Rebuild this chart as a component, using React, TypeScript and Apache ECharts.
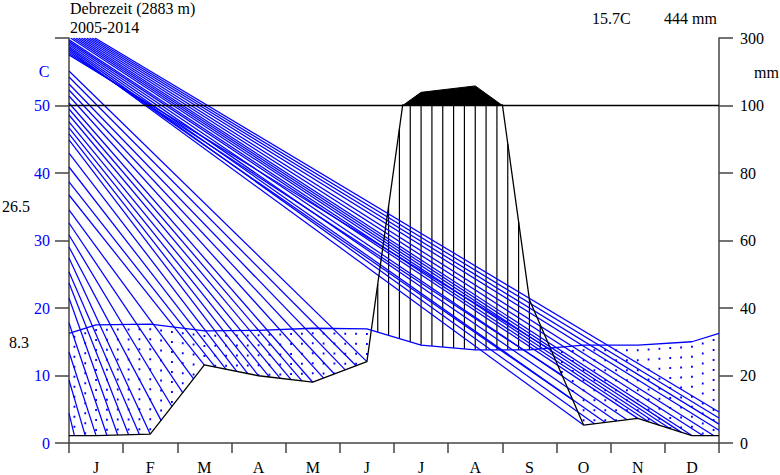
import React, { useEffect, useRef } from 'react';
import * as echarts from 'echarts';

// Station and period
const STATION = 'Debrezeit (2883 m)';
const PERIOD = '2005-2014';
const MEAN_TEMP_TEXT = '15.7C';
const TOTAL_PRECIP_TEXT = '444 mm';
const ABS_MAX_TEXT = '26.5';
const MIN_TEXT = '8.3';

// Monthly climate normals
const MONTHS = ['J', 'F', 'M', 'A', 'M', 'J', 'J', 'A', 'S', 'O', 'N', 'D'];
const TEMP_C = [17.5, 17.6, 16.6, 16.7, 17.0, 16.9, 14.5, 13.8, 13.8, 14.5, 14.5, 15.0];
const PRECIP_MM = [2.2, 2.6, 23.1, 19.9, 18.0, 24.1, 139, 158, 42.4, 5.3, 7.3, 2.2];

// Axis scales: left in C, right in mm (20 mm = 10 C up to 100 mm, then compressed)
const TEMP_TICKS = [0, 10, 20, 30, 40, 50, 60];
const MM_TICK_LABELS = ['0', '20', '40', '60', '80', '100', '300'];

// Blue shading strokes [x0, y0, x1, y1] in (month, C)
const UPPER_FAN: number[][] = [
  [0.48, 60, 12, 4.6],
  [0.43, 60, 12, 3.7],
  [0.38, 60, 12, 2.8],
  [0.33, 60, 12, 1.9],
  [0.28, 60, 11.9, 1.1],
  [0.23, 60, 11.7, 1.1],
  [0.18, 60, 11.5, 1.1],
  [0.13, 60, 11.3, 1.61],
  [0.08, 60, 11.1, 2.12],
  [0.03, 60, 10.9, 2.63],
  [0, 59.75, 10.7, 3.14],
  [0, 59.5, 10.5, 3.65],
  [0, 59.25, 10.3, 3.45],
  [0, 59.0, 10.1, 3.25],
  [0, 58.75, 9.9, 3.05],
  [0, 58.5, 9.7, 2.85],
  [0, 58.25, 9.5, 2.65],
  [0, 58.0, 9.3, 6.36],
  [0, 57.75, 9.1, 10.07],
  [0, 57.5, 8.9, 13.78],
];
const LOWER_FAN: number[][] = [
  [0, 4.44, 0.1, 1.1],
  [0, 9.33, 0.3, 1.1],
  [0, 13.48, 0.5, 1.1],
  [0, 17.78, 0.7, 1.14],
  [0, 21.48, 0.9, 1.18],
  [0, 23.7, 1.1, 1.22],
  [0, 25.33, 1.3, 1.26],
  [0, 27.41, 1.5, 1.3],
  [0, 29.04, 1.7, 3.35],
  [0, 30.81, 1.9, 5.4],
  [0, 32.59, 2.1, 7.45],
  [0, 34.52, 2.3, 9.5],
  [0, 36.74, 2.5, 11.55],
  [0, 38.67, 2.7, 11.23],
  [0, 40.89, 2.9, 10.91],
  [0, 42.96, 3.1, 10.59],
  [0, 44.89, 3.3, 10.27],
  [0, 45.78, 3.5, 9.95],
  [0, 46.67, 3.7, 9.76],
  [0, 47.56, 3.9, 9.57],
  [0, 48.59, 4.1, 9.38],
  [0, 49.48, 4.3, 9.19],
  [0, 50.37, 4.5, 9.0],
  [0, 51.41, 4.7, 9.61],
  [0, 52.3, 4.9, 10.22],
  [0, 53.19, 5.1, 10.83],
  [0, 54.22, 5.3, 11.44],
  [0, 55.11, 5.5, 12.05],
];

const SERIF = 'Liberation Serif';
const BLUE = '#0000ff';
const AXIS_GREY = '#444444';

// Curves closed at the year boundaries with the Dec/Jan mean
const edgeT = (TEMP_C[0] + TEMP_C[11]) / 2;
const edgeP = (PRECIP_MM[0] + PRECIP_MM[11]) / 2;
const tempPts = [[0, edgeT], ...TEMP_C.map((t, i) => [i + 0.5, t]), [12, edgeT]];
const precipMmPts = [[0, edgeP], ...PRECIP_MM.map((p, i) => [i + 0.5, p]), [12, edgeP]];
const precipScaledPts = precipMmPts.map(([x, p]) => [x, p / 2]);

function interp(pts: number[][], x: number): number {
  for (let i = 0; i < pts.length - 1; i++) {
    const [x0, y0] = pts[i];
    const [x1, y1] = pts[i + 1];
    if (x >= x0 && x <= x1) return y0 + ((y1 - y0) * (x - x0)) / (x1 - x0);
  }
  return pts[pts.length - 1][1];
}

// Hatching: solid black verticals for the humid season, blue dotted for the dry season
function renderHatch(_params: any, api: any) {
  const children: any[] = [];
  for (let k = 0; k < 60; k++) {
    const x = 0.1 + 0.2 * k;
    const t = interp(tempPts, x);
    const p = interp(precipScaledPts, x);
    const a = api.coord([x, t]);
    if (p > t) {
      const b = api.coord([x, Math.min(p, 50)]);
      children.push({
        type: 'line',
        shape: { x1: a[0], y1: a[1], x2: b[0], y2: b[1] },
        style: { stroke: '#000', lineWidth: 1.2 },
      });
    } else {
      const b = api.coord([x, p]);
      children.push({
        type: 'line',
        shape: { x1: a[0], y1: a[1] + 4, x2: b[0], y2: b[1] },
        style: { stroke: BLUE, lineWidth: 1.8, lineDash: [2, 8] },
      });
    }
  }
  return { type: 'group', children };
}

// Solid cap for monthly totals above 100 mm (scale 1 C = 20 mm beyond that)
function renderCap(_params: any, api: any) {
  const pts: number[][] = [];
  for (let i = 0; i < precipMmPts.length - 1; i++) {
    const [x0, p0] = precipMmPts[i];
    const [x1, p1] = precipMmPts[i + 1];
    if (p0 > 100) pts.push([x0, 50 + (p0 - 100) / 20]);
    if ((p0 - 100) * (p1 - 100) < 0) {
      const xc = x0 + ((100 - p0) * (x1 - x0)) / (p1 - p0);
      pts.push([xc, 50]);
    }
  }
  if (pts.length < 3) return { type: 'group', children: [] };
  return {
    type: 'polygon',
    shape: { points: pts.map((q) => api.coord(q)) },
    style: { fill: '#000', stroke: '#000', lineWidth: 1 },
  };
}

const fanData = [...UPPER_FAN, ...LOWER_FAN].map(([x0, y0, x1, y1]) => ({
  coords: [
    [x0, y0],
    [x1, y1],
  ],
}));

const textStyle = (text: string, size: number, fill: string, extra: any = {}) => ({
  text,
  fontFamily: SERIF,
  fontSize: size,
  fill,
  verticalAlign: 'middle',
  ...extra,
});

const option: any = {
  animation: false,
  backgroundColor: '#fff',
  textStyle: { fontFamily: SERIF },
  grid: [
    { left: 69, right: 61, top: 38, bottom: 32 },
    { left: 69, right: 61, top: 105, bottom: 32 },
  ],
  xAxis: [
    {
      gridIndex: 0,
      type: 'value',
      min: 0,
      max: 12,
      interval: 1,
      axisLine: { show: true, lineStyle: { color: AXIS_GREY, width: 1.5 } },
      axisTick: { show: true, length: 10, lineStyle: { color: AXIS_GREY, width: 1.5 } },
      axisLabel: { show: false },
      splitLine: { show: false },
    },
    {
      gridIndex: 0,
      type: 'category',
      position: 'bottom',
      data: MONTHS,
      boundaryGap: true,
      axisLine: { show: false },
      axisTick: { show: false },
      axisLabel: { color: '#000', fontFamily: SERIF, fontSize: 16, margin: 16, interval: 0 },
      splitLine: { show: false },
    },
    { gridIndex: 1, type: 'value', min: 0, max: 12, show: false },
  ],
  yAxis: [
    {
      gridIndex: 0,
      type: 'value',
      position: 'left',
      min: TEMP_TICKS[0],
      max: TEMP_TICKS[TEMP_TICKS.length - 1],
      interval: 10,
      axisLine: { show: true, lineStyle: { color: AXIS_GREY, width: 1.5 } },
      axisTick: { show: true, length: 14, lineStyle: { color: AXIS_GREY, width: 1.5 } },
      axisLabel: {
        color: BLUE,
        fontFamily: SERIF,
        fontSize: 16,
        margin: 19,
        formatter: (v: number) => (v === 60 ? '' : String(v)),
      },
      splitLine: { show: false },
    },
    {
      gridIndex: 0,
      type: 'value',
      position: 'right',
      min: 0,
      max: 60,
      interval: 10,
      axisLine: { show: true, lineStyle: { color: AXIS_GREY, width: 1.5 } },
      axisTick: { show: true, length: 14, lineStyle: { color: AXIS_GREY, width: 1.5 } },
      axisLabel: {
        color: '#000',
        fontFamily: SERIF,
        fontSize: 16,
        margin: 21,
        formatter: (v: number) => MM_TICK_LABELS[TEMP_TICKS.indexOf(v)] ?? '',
      },
      splitLine: { show: false },
    },
    { gridIndex: 1, type: 'value', min: 0, max: 50, show: false },
  ],
  series: [
    {
      type: 'custom',
      name: 'hatch',
      xAxisIndex: 0,
      yAxisIndex: 0,
      data: [[0, 0]],
      renderItem: renderHatch,
      silent: true,
      z: 2,
    },
    {
      type: 'lines',
      name: 'shading',
      coordinateSystem: 'cartesian2d',
      xAxisIndex: 0,
      yAxisIndex: 0,
      data: fanData,
      lineStyle: { color: BLUE, width: 1.25, opacity: 1, curveness: 0 },
      silent: true,
      z: 3,
    },
    {
      type: 'line',
      name: '100 mm',
      xAxisIndex: 0,
      yAxisIndex: 0,
      data: [
        [0, 50],
        [12, 50],
      ],
      symbol: 'none',
      lineStyle: { color: '#000', width: 1.3 },
      silent: true,
      z: 4,
    },
    {
      type: 'custom',
      name: 'cap',
      xAxisIndex: 0,
      yAxisIndex: 0,
      data: [[0, 0]],
      renderItem: renderCap,
      silent: true,
      z: 4,
    },
    {
      type: 'line',
      name: 'precipitation',
      xAxisIndex: 2,
      yAxisIndex: 2,
      data: precipScaledPts,
      symbol: 'none',
      clip: true,
      lineStyle: { color: '#000', width: 1.3 },
      silent: true,
      z: 5,
    },
    {
      type: 'line',
      name: 'temperature',
      xAxisIndex: 0,
      yAxisIndex: 0,
      data: tempPts,
      symbol: 'none',
      lineStyle: { color: BLUE, width: 1.3 },
      silent: true,
      z: 5,
    },
  ],
  graphic: [
    { type: 'text', x: 70, y: 8, style: textStyle(STATION, 16, '#000') },
    { type: 'text', x: 70, y: 27, style: textStyle(PERIOD, 16, '#000') },
    { type: 'text', x: 592, y: 18, style: textStyle(MEAN_TEMP_TEXT, 16, '#000') },
    { type: 'text', x: 664, y: 18, style: textStyle(TOTAL_PRECIP_TEXT, 16, '#000') },
    { type: 'text', x: 44, y: 71, style: textStyle('C', 16, BLUE, { align: 'center' }) },
    { type: 'text', x: 754, y: 72, style: textStyle('mm', 16, '#000') },
    { type: 'text', x: 30, y: 206, style: textStyle(ABS_MAX_TEXT, 16, '#000', { align: 'right' }) },
    { type: 'text', x: 29, y: 342, style: textStyle(MIN_TEXT, 16, '#000', { align: 'right' }) },
  ],
};

export default function App() {
  const ref = useRef<HTMLDivElement>(null);
  useEffect(() => {
    if (!ref.current) return;
    const chart = echarts.init(ref.current, null, { renderer: 'svg' });
    chart.setOption(option);
    return () => chart.dispose();
  }, []);
  return (
    <div
      ref={ref}
      style={{ position: 'absolute', left: 0, top: 0, width: 780, height: 475, background: '#fff' }}
    />
  );
}
